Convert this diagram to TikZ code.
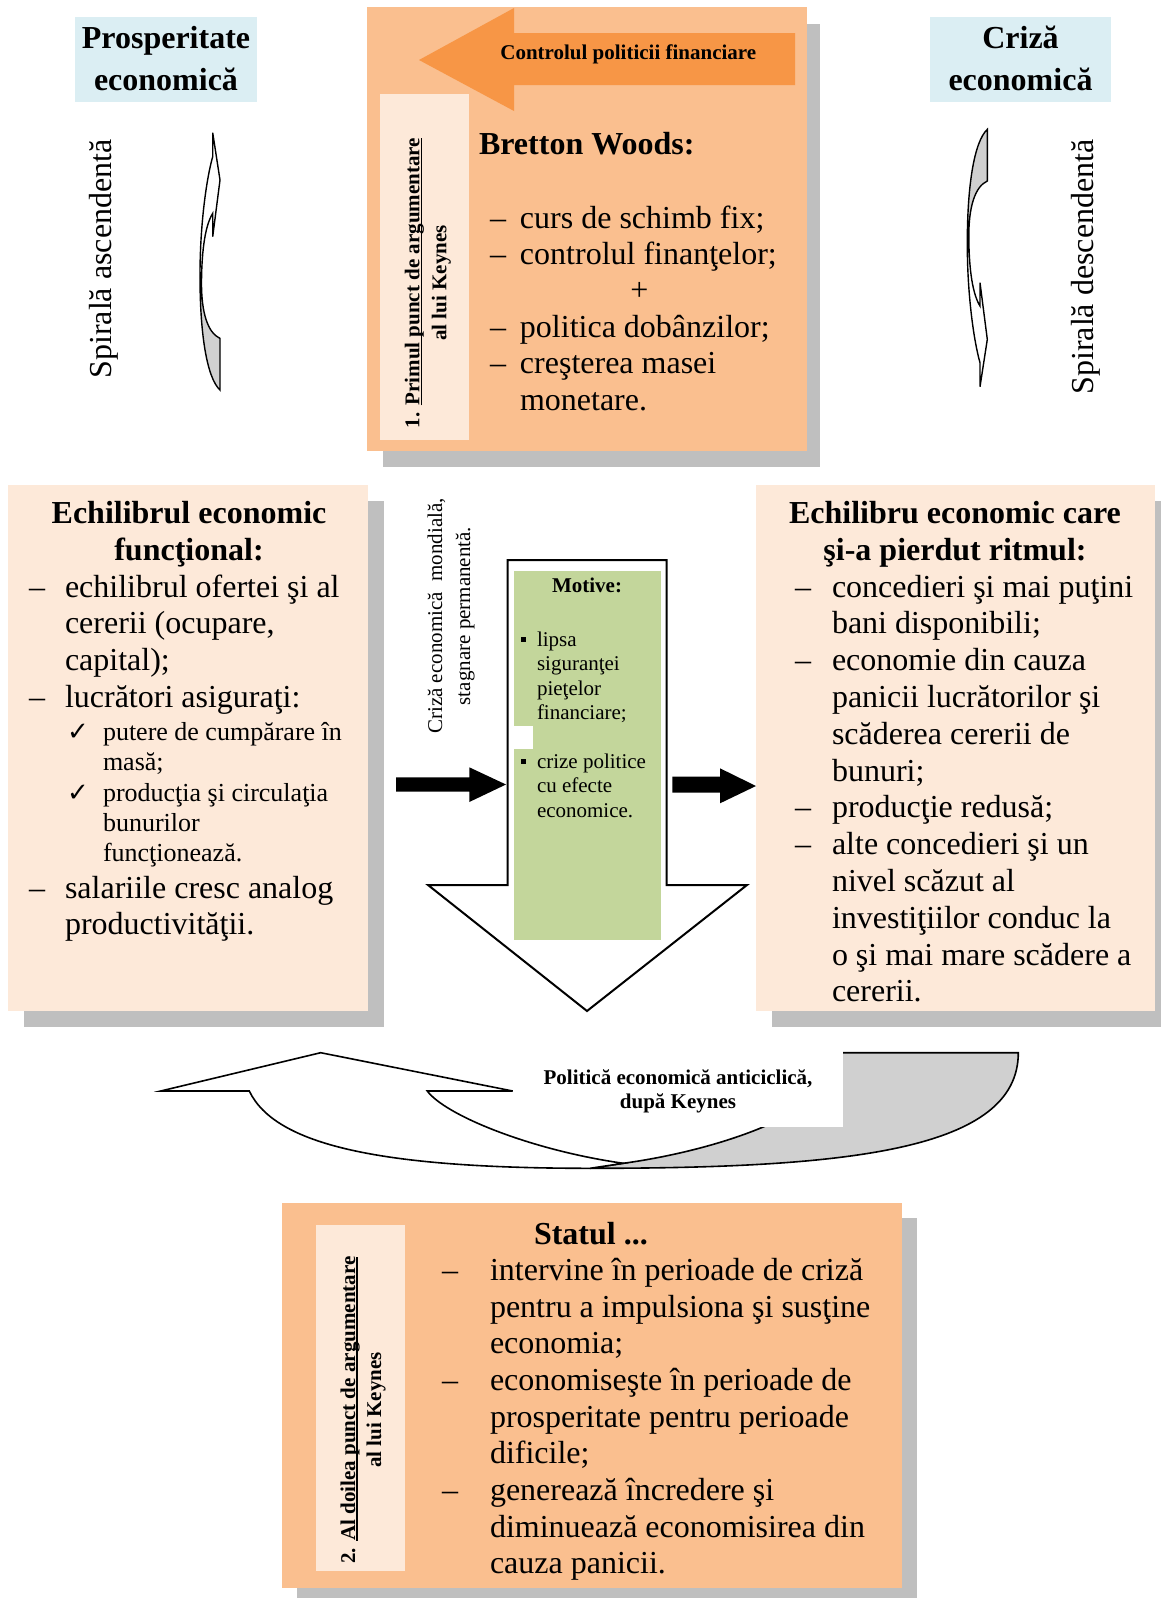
\documentclass[tikz,border=0pt]{standalone}
\usepackage{fontspec}
\setmainfont{Liberation Serif}
\newfontfamily\symfont{DejaVu Sans}
\usepackage{array}

\definecolor{cblue}{RGB}{219,238,243}
\definecolor{corange}{RGB}{250,191,143}
\definecolor{cpeach}{RGB}{253,233,217}
\definecolor{carrow}{RGB}{247,150,70}
\definecolor{cgreen}{RGB}{195,214,155}
\definecolor{cshadow}{RGB}{191,191,191}
\definecolor{cgrey}{RGB}{208,208,208}

% stacked lines: centred / left aligned / with a hanging marker column
\newcommand{\stackc}[1]{\begin{tabular}[t]{@{}c@{}}#1\end{tabular}}
\newcommand{\stackl}[1]{\begin{tabular}[t]{@{}l@{}}#1\end{tabular}}
\newcommand{\hang}[2]{\begin{tabular}[t]{@{}p{#1}@{}l@{}}#2\end{tabular}}
\newcommand{\chk}{{\symfont\fontsize{26}{26}\selectfont ✓}}
\newcommand{\sqb}{\rule[4pt]{5.5pt}{5.5pt}}
% underline drawn just below the baseline, through the descenders
\newcommand{\ulin}[1]{\setbox0\hbox{#1}\rlap{\rule[-2.6pt]{\wd0}{1.4pt}}\box0}

\tikzset{
  every node/.style={inner sep=0pt, outer sep=0pt},
  shadowfill/.style={fill=cshadow},
  body/.style={font=\fontsize{32}{36.7}\selectfont},
  bodyb/.style={font=\fontsize{32}{37}\selectfont\bfseries},
  titleb/.style={font=\fontsize{32}{42.6}\selectfont\bfseries},
  small/.style={font=\fontsize{26}{30.3}\selectfont},
  labelb/.style={font=\fontsize{21}{27}\selectfont\bfseries},
  motive/.style={font=\fontsize{21}{24.5}\selectfont},
  outline/.style={draw=black, line width=1.6pt, line join=miter},
  spiralarrow/.pic={
    \fill[white] (0,0) -- (7.3,47.3) -- (0,104) -- (0,80.7)
      .. controls (-7,92) and (-11,115) .. (-11.2,150)
      .. controls (-11.3,180) and (-5,200) .. (7.3,205.7) -- (7.3,257.3)
      .. controls (-6,245) and (-13,200) .. (-12.7,140)
      .. controls (-12.5,90) and (-6,45) .. (0,24) -- cycle;
    \fill[cgrey] (-11.2,150) .. controls (-11.3,180) and (-5,200) .. (7.3,205.7)
      -- (7.3,257.3) .. controls (-6,245) and (-13,200) .. (-12.7,140) -- cycle;
    \draw[outline, line width=1.4pt] (0,0) -- (7.3,47.3) -- (0,104) -- (0,80.7)
      .. controls (-7,92) and (-11,115) .. (-11.2,150)
      .. controls (-11.3,180) and (-5,200) .. (7.3,205.7) -- (7.3,257.3)
      .. controls (-6,245) and (-13,200) .. (-12.7,140)
      .. controls (-12.5,90) and (-6,45) .. (0,24) -- cycle;
  }
}

\begin{document}
\begin{tikzpicture}[x=1pt, y=-1pt]
\useasboundingbox (0,0) rectangle (1160,1598);
\fill[white] (0,0) rectangle (1160,1598);

% ---------- top row: titles and spirals ----------
\node[fill=cblue, anchor=north west, minimum width=182, minimum height=85] (prosbox) at (75,17) {};
\node[titleb, anchor=base] (prostext) at (166,48) {\stackc{Prosperitate\\economică}};
\node[fill=cblue, anchor=north west, minimum width=181, minimum height=85] (crizbox) at (930,17) {};
\node[titleb, anchor=base] (criztext) at (1020.5,48) {\stackc{Criză\\economică}};

\node[body, rotate=90] (ascend) at (103.5,259) {Spirală ascendentă};
\node[body, rotate=90] (descend) at (1086,267) {Spirală descendentă};

\pic at (212.7,132.7) {spiralarrow};
\pic[yscale=-1] at (980,386.7) {spiralarrow};

% ---------- Bretton Woods block ----------
\fill[shadowfill] (383,24) rectangle (820,467);
\node[fill=corange, anchor=north west, minimum width=440, minimum height=444] (bwbox) at (367,7) {};
\fill[carrow] (419,60) -- (514,8) -- (514,33) -- (795,33) -- (795,85) -- (514,85) -- (514,111) -- cycle;
\node[labelb, anchor=base] (ctrl) at (628.3,59) {Controlul politicii financiare};
\node[fill=cpeach, anchor=north west, minimum width=89, minimum height=346] (arg1box) at (380,94) {};
\node[labelb, rotate=90] (arg1) at (427.4,283) {\stackc{1. \ulin{Primul punct de argumentare}\\al lui Keynes}};
\node[bodyb, anchor=base west] (bwtitle) at (479,154) {Bretton Woods:};
\node[body, font=\fontsize{32}{36.4}\selectfont, anchor=base west] (bwlist) at (490,228)
  {\hang{30pt}{– & curs de schimb fix;\\
               – & controlul finanţelor;\\
                 & \\
               – & politica dobânzilor;\\
               – & creşterea masei\\
                 & monetare.}};
\node[body, anchor=base] (plus) at (639.3,300.8) {+};

% ---------- left box ----------
\fill[shadowfill] (24,501) rectangle (384,1027);
\node[fill=cpeach, anchor=north west, minimum width=360, minimum height=526] (lbox) at (8,485) {};
\node[bodyb, anchor=base] (ltitle) at (189,523) {\stackc{Echilibrul economic\\funcţional:}};
\node[body, anchor=base west] (llist1) at (29,597)
  {\hang{36pt}{– & echilibrul ofertei şi al\\
                 & cererii (ocupare,\\
                 & capital);\\
               – & lucrători asiguraţi:}};
\node[small, anchor=base west] (lchecks) at (67,740.5)
  {\hang{36pt}{\chk & putere de cumpărare în\\
                    & masă;\\
               \chk & producţia şi circulaţia\\
                    & bunurilor\\
                    & funcţionează.}};
\node[body, anchor=base west] (llist2) at (29,898)
  {\hang{36pt}{– & salariile cresc analog\\
                 & productivităţii.}};

% ---------- right box ----------
\fill[shadowfill] (772,501) rectangle (1172,1027);
\node[fill=cpeach, anchor=north west, minimum width=399, minimum height=526] (rbox) at (756,485) {};
\node[bodyb, anchor=base] (rtitle) at (955,523) {\stackc{Echilibru economic care\\şi-a pierdut ritmul:}};
\node[body, font=\fontsize{32}{36.8}\selectfont, anchor=base west] (rlist) at (795,597)
  {\hang{37pt}{– & concedieri şi mai puţini\\
                 & bani disponibili;\\
               – & economie din cauza\\
                 & panicii lucrătorilor şi\\
                 & scăderea cererii de\\
                 & bunuri;\\
               – & producţie redusă;\\
               – & alte concedieri şi un\\
                 & nivel scăzut al\\
                 & investiţiilor conduc la\\
                 & o şi mai mare scădere a\\
                 & cererii.}};

% ---------- central down arrow ----------
\node[rotate=90, font=\fontsize{21}{28}\selectfont] (crisis) at (450.5,616)
  {\stackc{Criză economică \ mondială,\\stagnare permanentă.}};
\draw[fill=white, draw=black, line width=2pt, line join=miter] (507.7,560) -- (666.7,560) -- (666.7,885)
  -- (747,885) -- (587,1011) -- (428,885) -- (507.7,885) -- cycle;
\node[fill=cgreen, anchor=north west, minimum width=147, minimum height=369] (motbox) at (514,571) {};
\fill[white] (514,726) rectangle (533,749);
\node[motive, font=\fontsize{21}{24.5}\selectfont\bfseries, anchor=base] (mottitle) at (587,592) {Motive:};
\node[motive, anchor=base west] (mot1) at (520.7,646)
  {\hang{16.3pt}{\sqb & lipsa\\ & siguranţei\\ & pieţelor\\ & financiare;}};
\node[motive, anchor=base west] (mot2) at (520.7,768)
  {\hang{16.3pt}{\sqb & crize politice\\ & cu efecte\\ & economice.}};

% black block arrows into and out of the central arrow
\fill[black] (396,777.3) -- (469.3,777.3) -- (469.3,767.3) -- (506,784.5) -- (469.3,802)
  -- (469.3,791.7) -- (396,791.7) -- cycle;
\fill[black] (672.3,776.7) -- (720,776.7) -- (720,768.3) -- (756,786) -- (720,803.3)
  -- (720,792.7) -- (672.3,792.7) -- cycle;

% ---------- curved arrow (anticyclical policy) ----------
\draw[outline, fill=cgrey] (590,1168.3) .. controls (850,1168.3) and (1018.3,1150) .. (1018.3,1052.7)
  -- (842,1052.7) .. controls (842,1110) and (720,1150) .. (623.3,1163.3) -- cycle;
\draw[outline, fill=white] (320.7,1052.7) -- (512.7,1091) -- (427.3,1091)
  .. controls (445,1115) and (530,1150) .. (623.3,1163.3) -- (590,1168.3)
  .. controls (380,1168.3) and (275,1145) .. (249.3,1091) -- (160.7,1091) -- cycle;
\node[fill=white, anchor=north west, minimum width=323, minimum height=85] (polbox) at (520,1042.3) {};
\node[font=\fontsize{21}{24}\selectfont\bfseries, anchor=base] (poltext) at (678,1084.3)
  {\stackc{Politică economică anticiclică,\\după Keynes}};

% ---------- bottom block ----------
\fill[shadowfill] (297,1218) rectangle (917,1610);
\node[fill=corange, anchor=north west, minimum width=620, minimum height=385] (stbox) at (282,1203) {};
\node[fill=cpeach, anchor=north west, minimum width=89, minimum height=346] (arg2box) at (316,1225) {};
\node[labelb, font=\fontsize{21}{26}\selectfont\bfseries, rotate=90] (arg2) at (363,1410)
  {\stackc{2. \ulin{Al doilea punct de argumentare}\\al lui Keynes}};
\node[bodyb, anchor=base west] (sttitle) at (534,1244.5) {Statul ...};
\node[body, anchor=base west] (stlist) at (442,1280.3)
  {\hang{48pt}{– & intervine în perioade de criză\\
                 & pentru a impulsiona şi susţine\\
                 & economia;\\
               – & economiseşte în perioade de\\
                 & prosperitate pentru perioade\\
                 & dificile;\\
               – & generează încredere şi\\
                 & diminuează economisirea din\\
                 & cauza panicii.}};
\end{tikzpicture}
\end{document}
